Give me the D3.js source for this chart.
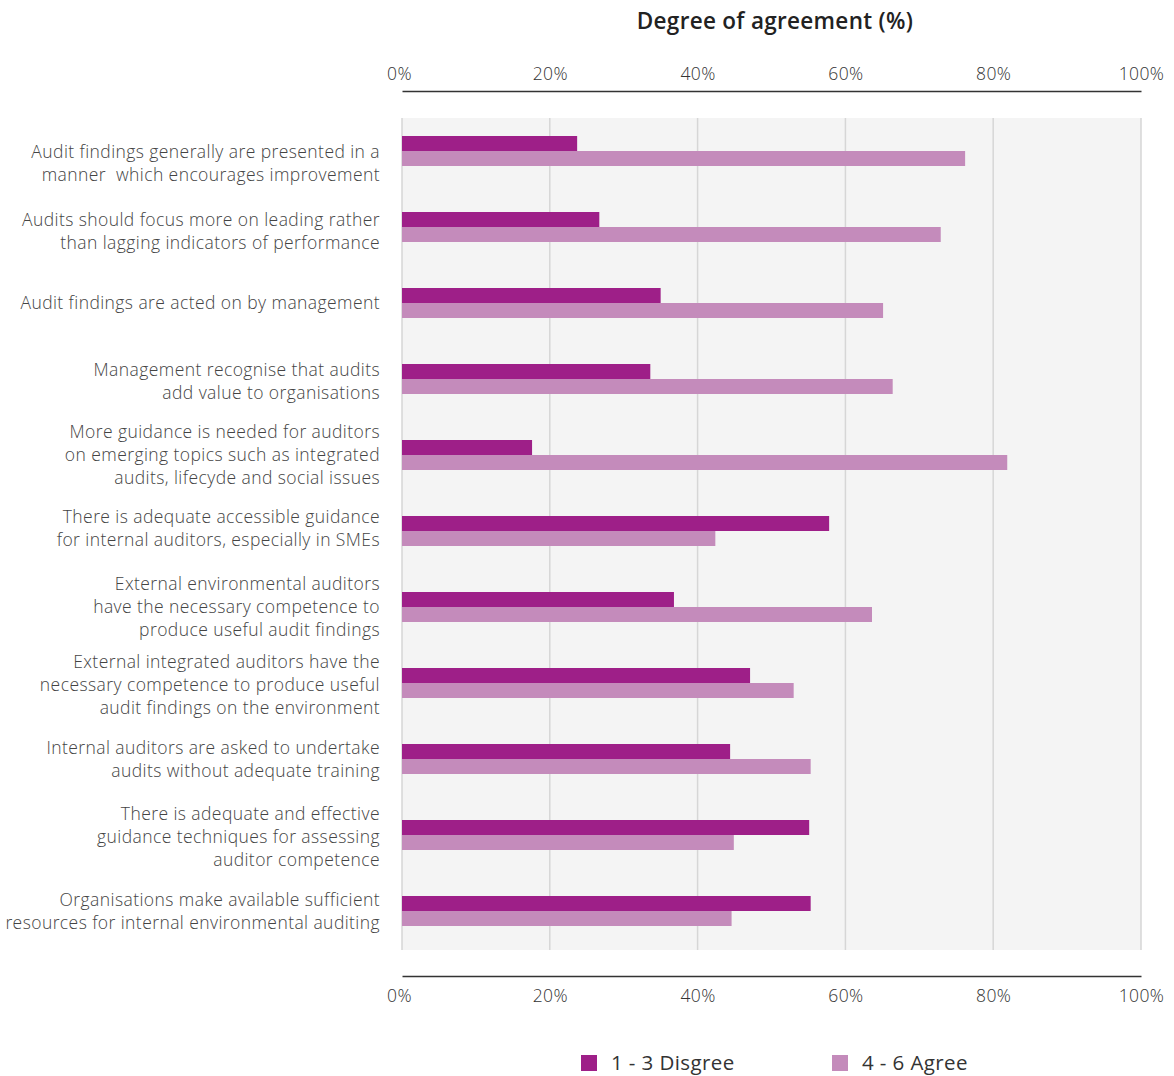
<!DOCTYPE html>
<html><head><meta charset="utf-8">
<script src="https://cdn.jsdelivr.net/npm/d3@7"></script>
<style>
body{margin:0;background:#fff;}
svg text{font-family:"Open Sans",sans-serif;}
</style></head>
<body><svg id="c" width="1174" height="1076"></svg>
<script>
const categories = [
  ["Audit findings generally are presented in a","manner  which encourages improvement"],
  ["Audits should focus more on leading rather","than lagging indicators of performance"],
  ["Audit findings are acted on by management"],
  ["Management recognise that audits","add value to organisations"],
  ["More guidance is needed for auditors","on emerging topics such as integrated","audits, lifecyde and social issues"],
  ["There is adequate accessible guidance","for internal auditors, especially in SMEs"],
  ["External environmental auditors","have the necessary competence to","produce useful audit findings"],
  ["External integrated auditors have the","necessary competence to produce useful","audit findings on the environment"],
  ["Internal auditors are asked to undertake","audits without adequate training"],
  ["There is adequate and effective","guidance techniques for assessing","auditor competence"],
  ["Organisations make available sufficient","resources for internal environmental auditing"]
];
const disagree = [23.7, 26.7, 35.0, 33.6, 17.6, 57.8, 36.8, 47.1, 44.4, 55.1, 55.3];
const agree    = [76.2, 72.9, 65.1, 66.4, 81.9, 42.4, 63.6, 53.0, 55.3, 44.9, 44.6];
const tickValues = [0, 20, 40, 60, 80, 100];
const seriesNames = ["1 - 3 Disgree", "4 - 6 Agree"];
const colors = ["#9e1f88", "#c48bbb"];

const svg = d3.select("#c");
const x = d3.scaleLinear().domain([0,100]).range([402,1141]);
const y = d3.scaleBand().domain(d3.range(categories.length)).range([113,949]);
const barH = 15;

svg.append("rect").attr("x",x(0)).attr("y",118).attr("width",x(100)-x(0)).attr("height",832).attr("fill","#f4f4f4");
svg.append("g").selectAll("line").data(tickValues).join("line")
  .attr("x1",d=>x(d)).attr("x2",d=>x(d)).attr("y1",118).attr("y2",950)
  .attr("stroke","#d6d6d6").attr("stroke-width",1.5);

const fmt = d=>d+"%";
const axTop = svg.append("g").attr("transform","translate(0,91)")
  .call(d3.axisTop(x).tickValues(tickValues).tickFormat(fmt).tickSize(0).tickPadding(11));
const axBot = svg.append("g").attr("transform","translate(0,976)")
  .call(d3.axisBottom(x).tickValues(tickValues).tickFormat(fmt).tickSize(0).tickPadding(14));
[axTop,axBot].forEach(g=>{
  g.select(".domain").attr("stroke","#333").attr("stroke-width",1.5);
  g.selectAll("text").attr("font-family","Open Sans").attr("font-weight",300).attr("font-size",17.5)
    .attr("letter-spacing",0.4).attr("fill","#333");
});
axTop.selectAll(".tick text").filter(d=>d===0).attr("dx",-3);
axBot.selectAll(".tick text").filter(d=>d===0).attr("dx",-3);

const grp = svg.append("g");
grp.selectAll("rect.d").data(disagree).join("rect").attr("class","d")
  .attr("x",x(0)).attr("y",(d,i)=>y(i)+y.bandwidth()/2-barH)
  .attr("width",d=>x(d)-x(0)).attr("height",barH).attr("fill",colors[0]);
grp.selectAll("rect.a").data(agree).join("rect").attr("class","a")
  .attr("x",x(0)).attr("y",(d,i)=>y(i)+y.bandwidth()/2)
  .attr("width",d=>x(d)-x(0)).attr("height",barH).attr("fill",colors[1]);

const lh = 22.8;
const labOff = [12, 4, 0, 2, 0, -3, 0, 2, 0, 2, 0];
const lab = svg.append("g").selectAll("text").data(categories).join("text")
  .attr("text-anchor","end").attr("font-size",17.5).attr("font-weight",300).attr("fill","#444")
  .attr("letter-spacing",0.42).style("white-space","pre")
  .attr("transform",(d,i)=>`translate(380,${y(i)+y.bandwidth()/2 + labOff[i]})`);
lab.each(function(lines){
  const t=d3.select(this);
  const off=-(lines.length-1)/2*lh;
  lines.forEach((l,k)=>t.append("tspan").attr("x",0).attr("y",off+k*lh).attr("dy","0.35em").text(l));
});

svg.append("text").attr("x",775).attr("y",29).attr("text-anchor","middle")
  .attr("font-size",22.5).attr("font-weight",600).attr("letter-spacing",0.3).attr("fill","#222").text("Degree of agreement (%)");

const legX=[581,832];
const leg = svg.append("g").selectAll("g").data(seriesNames).join("g")
  .attr("transform",(d,i)=>`translate(${legX[i]},1055)`);
leg.append("rect").attr("width",16).attr("height",16).attr("fill",(d,i)=>colors[i]);
leg.append("text").attr("x",30).attr("y",15).attr("font-size",20.5).attr("font-weight",400)
  .attr("letter-spacing",0.4).attr("fill","#333").text(d=>d);
</script></body></html>
